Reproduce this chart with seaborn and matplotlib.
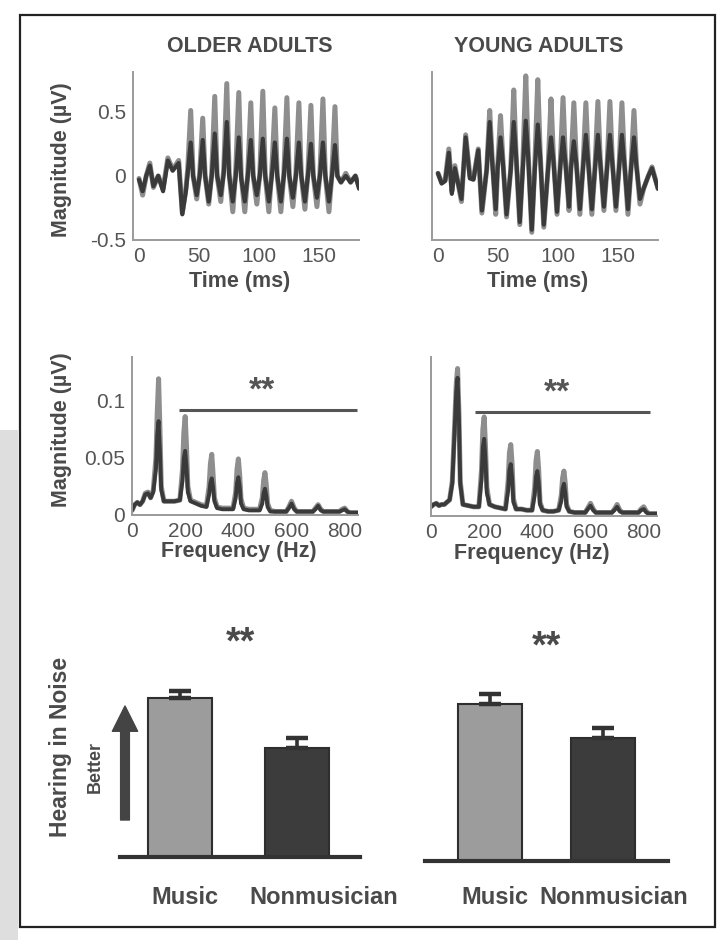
import matplotlib
matplotlib.use("Agg")
import matplotlib.pyplot as plt
import seaborn as sns
import pandas as pd
from matplotlib.patches import Rectangle

# ---------------- data ----------------
time_old = [0, 3, 6, 9, 12, 16, 20, 24, 28, 33, 36, 39,
            40.5, 43, 45, 48, 50.5, 53, 55, 58, 60.5, 63, 65, 68,
            70.5, 73, 75, 78, 80.5, 83, 85, 88, 90.5, 93, 95, 98,
            100.5, 103, 105, 108, 110.5, 113, 115, 118, 120.5, 123, 125, 128,
            130.5, 133, 135, 138, 140.5, 143, 145, 148, 150.5, 153, 155, 158,
            160.5, 163, 165, 168, 172, 176, 180, 183]
old_music_wave = [-0.02, -0.15, 0.0, 0.10, -0.09, 0.0, -0.10, 0.14, 0.05, 0.12, -0.29, -0.10,
                  0.05, 0.51, 0.0, -0.18, 0.02, 0.45, 0.0, -0.22, 0.02, 0.62, 0.0, -0.20,
                  0.05, 0.72, 0.02, -0.28, 0.05, 0.65, 0.0, -0.28, 0.02, 0.57, 0.0, -0.22,
                  0.02, 0.66, 0.0, -0.28, 0.05, 0.53, 0.0, -0.28, 0.02, 0.61, 0.0, -0.24,
                  0.02, 0.57, 0.0, -0.26, 0.02, 0.55, 0.0, -0.24, 0.02, 0.60, 0.0, -0.28,
                  0.02, 0.54, 0.0, -0.05, 0.02, -0.05, 0.0, -0.08]
old_non_wave = [-0.03, -0.12, 0.0, 0.08, -0.08, 0.0, -0.12, 0.12, 0.04, 0.10, -0.30, -0.12,
                0.02, 0.26, 0.0, -0.15, 0.0, 0.28, 0.0, -0.20, 0.0, 0.33, 0.0, -0.15,
                0.02, 0.42, 0.0, -0.20, 0.0, 0.30, -0.02, -0.20, 0.0, 0.28, 0.0, -0.15,
                0.0, 0.29, 0.0, -0.20, 0.0, 0.26, 0.0, -0.20, 0.0, 0.29, 0.0, -0.17,
                0.0, 0.26, 0.0, -0.20, 0.0, 0.25, 0.0, -0.17, 0.0, 0.26, 0.0, -0.20,
                0.0, 0.24, 0.0, -0.05, 0.0, -0.05, 0.0, -0.10]

time_young = [0, 3, 6, 9, 11.5, 14, 19.5, 23, 26.5, 29.5, 33.5, 36.5,
              40.5, 43, 45, 48, 49.5, 52, 54, 57, 60.5, 63, 65, 68,
              70.5, 73, 75, 78, 80.5, 83, 85, 88, 91.5, 94, 96, 99,
              101.5, 104, 106, 109, 110.5, 113, 115, 118, 120.5, 123, 125, 128,
              130.5, 133, 135, 138, 140.5, 143, 145, 148, 150.5, 153, 155, 158,
              160.5, 163, 165, 168, 171, 175, 178, 183]
young_music_wave = [0.02, -0.05, -0.03, 0.21, -0.12, 0.08, -0.20, 0.32, 0.0, -0.02, 0.21, -0.29,
                    0.05, 0.51, 0.15, -0.30, 0.05, 0.47, 0.12, -0.32, 0.05, 0.67, 0.15, -0.38,
                    0.08, 0.78, 0.18, -0.44, 0.08, 0.75, 0.18, -0.40, 0.05, 0.60, 0.15, -0.30,
                    0.05, 0.61, 0.12, -0.27, 0.05, 0.57, 0.12, -0.30, 0.05, 0.57, 0.12, -0.30,
                    0.05, 0.58, 0.12, -0.27, 0.05, 0.58, 0.12, -0.27, 0.05, 0.57, 0.12, -0.30,
                    0.05, 0.51, 0.10, -0.22, -0.10, 0.0, 0.07, -0.10]
young_non_wave = [0.02, -0.06, -0.04, 0.18, -0.14, 0.06, -0.18, 0.30, -0.02, -0.03, 0.20, -0.27,
                  0.05, 0.42, 0.12, -0.26, 0.05, 0.30, 0.10, -0.30, 0.05, 0.42, 0.15, -0.36,
                  0.05, 0.43, 0.15, -0.42, 0.05, 0.40, 0.15, -0.38, 0.05, 0.30, 0.12, -0.28,
                  0.05, 0.30, 0.10, -0.24, 0.05, 0.27, 0.10, -0.26, 0.05, 0.32, 0.10, -0.26,
                  0.05, 0.32, 0.10, -0.24, 0.05, 0.32, 0.10, -0.24, 0.05, 0.32, 0.10, -0.26,
                  0.05, 0.30, 0.08, -0.18, -0.10, 0.0, 0.06, -0.10]

freq = [0, 10, 20, 30, 40, 50, 60, 70, 80, 90, 95, 100, 105, 110, 120, 140, 160, 180, 190, 195,
        200, 205, 210, 220, 240, 260, 280, 290, 295, 300, 305, 310, 320, 340, 360, 380, 390, 395,
        400, 405, 410, 420, 440, 460, 480, 490, 495, 500, 505, 510, 520, 540, 560, 580, 590, 600,
        610, 620, 640, 660, 680, 690, 700, 710, 720, 740, 760, 780, 790, 800, 810, 820, 850]
old_music_spec = [0.004, 0.009, 0.011, 0.009, 0.012, 0.019, 0.020, 0.015, 0.022, 0.050,
                  0.090, 0.119, 0.075, 0.025, 0.012, 0.012, 0.012, 0.013, 0.040, 0.072,
                  0.086, 0.060, 0.025, 0.013, 0.011, 0.009, 0.008, 0.025, 0.045, 0.053,
                  0.035, 0.015, 0.007, 0.006, 0.006, 0.006, 0.020, 0.040, 0.049, 0.035,
                  0.014, 0.006, 0.005, 0.005, 0.005, 0.015, 0.030, 0.037, 0.026, 0.010,
                  0.004, 0.003, 0.003, 0.003, 0.007, 0.012, 0.006, 0.003, 0.003, 0.003,
                  0.003, 0.006, 0.009, 0.005, 0.003, 0.003, 0.003, 0.003, 0.005, 0.006,
                  0.003, 0.002, 0.002]
old_non_spec = [0.004, 0.009, 0.011, 0.009, 0.012, 0.018, 0.019, 0.015, 0.020, 0.040,
                0.070, 0.082, 0.055, 0.022, 0.012, 0.012, 0.012, 0.013, 0.030, 0.050,
                0.056, 0.042, 0.020, 0.012, 0.010, 0.008, 0.007, 0.018, 0.028, 0.032,
                0.024, 0.012, 0.006, 0.005, 0.005, 0.005, 0.015, 0.028, 0.033, 0.025,
                0.010, 0.005, 0.004, 0.004, 0.004, 0.010, 0.019, 0.023, 0.017, 0.007,
                0.003, 0.003, 0.003, 0.003, 0.006, 0.010, 0.005, 0.003, 0.003, 0.003,
                0.003, 0.005, 0.008, 0.004, 0.003, 0.003, 0.003, 0.003, 0.004, 0.005,
                0.003, 0.002, 0.002]
young_music_spec = [0.008, 0.010, 0.011, 0.009, 0.010, 0.010, 0.012, 0.014, 0.030, 0.085,
                    0.115, 0.128, 0.090, 0.030, 0.010, 0.009, 0.008, 0.008, 0.040, 0.075,
                    0.086, 0.060, 0.025, 0.010, 0.008, 0.007, 0.006, 0.030, 0.055, 0.062,
                    0.045, 0.015, 0.006, 0.006, 0.005, 0.005, 0.025, 0.048, 0.056, 0.040,
                    0.012, 0.005, 0.004, 0.004, 0.005, 0.018, 0.033, 0.039, 0.028, 0.010,
                    0.004, 0.003, 0.003, 0.003, 0.007, 0.011, 0.006, 0.003, 0.003, 0.003,
                    0.003, 0.006, 0.010, 0.005, 0.003, 0.003, 0.003, 0.003, 0.006, 0.008,
                    0.004, 0.002, 0.002]
young_non_spec = [0.008, 0.010, 0.011, 0.009, 0.010, 0.010, 0.012, 0.014, 0.028, 0.080,
                  0.108, 0.120, 0.085, 0.028, 0.010, 0.009, 0.008, 0.008, 0.032, 0.060,
                  0.067, 0.048, 0.020, 0.010, 0.008, 0.007, 0.006, 0.022, 0.040, 0.045,
                  0.033, 0.012, 0.006, 0.006, 0.005, 0.005, 0.018, 0.034, 0.039, 0.029,
                  0.010, 0.005, 0.004, 0.004, 0.005, 0.013, 0.024, 0.028, 0.020, 0.008,
                  0.004, 0.003, 0.003, 0.003, 0.006, 0.009, 0.005, 0.003, 0.003, 0.003,
                  0.003, 0.005, 0.008, 0.004, 0.003, 0.003, 0.003, 0.003, 0.005, 0.006,
                  0.003, 0.002, 0.002]

# significance bar spans (Hz) and level
sig_old = [175, 845]
sig_young = [165, 825]
sig_level_old = 0.092
sig_level_young = 0.090

groups = ["Music", "Nonmusician"]
hin_old = [0.80, 0.55]
hin_old_err = [0.035, 0.05]
hin_young = [0.79, 0.62]
hin_young_err = [0.05, 0.05]

panel_titles = ["OLDER ADULTS", "YOUNG ADULTS"]

# ---------------- style ----------------
sns.set_theme(style="white")
plt.rcParams["font.family"] = ["Liberation Sans", "DejaVu Sans"]
TXT = "#4a4a4a"
GREY = "#8e8e8e"
DARK = "#3a3a3a"
SPINE = "#9a9a9a"

W, H = 719, 940
fig = plt.figure(figsize=(W / 100, H / 100), dpi=100)
fig.patch.set_facecolor("white")


def rect(x0, y_top, x1, y_bot):
    return [x0 / W, 1 - y_bot / H, (x1 - x0) / W, (y_bot - y_top) / H]


def fx(x):
    return x / W


def fy(y):
    return 1 - y / H


# page frame and scanned edge (no fill, drawn underneath)
fig.patches.append(Rectangle((0, 0), fx(18), fy(430), transform=fig.transFigure,
                             facecolor="#dedede", edgecolor="none", zorder=-5))
fig.patches.append(Rectangle((fx(20), fy(927)), fx(715) - fx(20), fy(15) - fy(927),
                             transform=fig.transFigure, facecolor="none",
                             edgecolor="#222222", lw=1.6, zorder=-4))


def style_trace_axes(ax, show_ylabels):
    ax.set_facecolor("none")
    for s in ["top", "right"]:
        ax.spines[s].set_visible(False)
    for s in ["left", "bottom"]:
        ax.spines[s].set_color(SPINE)
        ax.spines[s].set_linewidth(1.4)
    ax.tick_params(direction="in", length=3, color=SPINE, labelsize=15,
                   labelcolor="#555555", pad=5)
    if not show_ylabels:
        ax.set_yticklabels([])
    ax.set_xlabel("")
    ax.set_ylabel("")


# ---------- time-domain panels ----------
wave_sets = [(time_old, old_music_wave, old_non_wave), (time_young, young_music_wave, young_non_wave)]
wave_rects = [rect(133, 72, 359, 240), rect(432, 72, 658, 240)]
for i, ((t, m, n), r) in enumerate(zip(wave_sets, wave_rects)):
    ax = fig.add_axes(r)
    sns.lineplot(x=t, y=m, ax=ax, color=GREY, lw=3.6, estimator=None, sort=False)
    sns.lineplot(x=t, y=n, ax=ax, color=DARK, lw=3.0, estimator=None, sort=False)
    ax.set_xlim(-5, 183)
    ax.set_ylim(-0.5, 0.81)
    ax.set_xticks([0, 50, 100, 150])
    ax.set_yticks([-0.5, 0, 0.5])
    ax.set_yticklabels(["-0.5", "0", "0.5"])
    style_trace_axes(ax, i == 0)

# ---------- spectra panels ----------
spec_sets = [(old_music_spec, old_non_spec, sig_old, sig_level_old),
             (young_music_spec, young_non_spec, sig_young, sig_level_young)]
spec_rects = [rect(132, 357, 358, 515), rect(431, 357, 657, 516)]
for i, ((m, n, sig, lev), r) in enumerate(zip(spec_sets, spec_rects)):
    ax = fig.add_axes(r)
    sns.lineplot(x=freq, y=m, ax=ax, color=GREY, lw=3.6, estimator=None, sort=False)
    sns.lineplot(x=freq, y=n, ax=ax, color=DARK, lw=2.8, estimator=None, sort=False)
    ax.plot(sig, [lev, lev], color="#555555", lw=2.2, solid_capstyle="butt")
    ax.text((sig[0] + sig[1]) / 2 - 20, lev + 0.003, "**", ha="center", va="bottom",
            fontsize=24, fontweight="bold", color="#555555")
    ax.set_xlim(0, 850)
    ax.set_ylim(0, 0.138)
    ax.set_xticks([0, 200, 400, 600, 800])
    ax.set_yticks([0, 0.05, 0.1])
    ax.set_yticklabels(["0", "0.05", "0.1"])
    style_trace_axes(ax, i == 0)

# ---------- bar panels ----------
# (values, errors, axes rect, xlim, bar width, label x-offsets in px, label drop in px)
bar_sets = [(hin_old, hin_old_err, rect(120, 658.25, 360, 857), (-0.51, 1.54), 0.55, [5, 27], 40),
            (hin_young, hin_young_err, rect(425, 662.25, 668, 861), (-0.575, 1.575), 0.57, [5, 11], 36)]
for vals, errs, r, xl, wdt, dxs, drop in bar_sets:
    ax = fig.add_axes(r)
    df = pd.DataFrame({"group": groups, "score": vals})
    sns.barplot(data=df, x="group", y="score", hue="group", palette=["#9c9c9c", "#3c3c3c"],
                width=wdt, edgecolor="#2e2e2e", linewidth=1.5, errorbar=None,
                legend=False, ax=ax)
    ax.errorbar([0, 1], vals, yerr=[[0, 0], errs], fmt="none", ecolor="#333333",
                elinewidth=2.6, capsize=8, capthick=3.2, zorder=5)
    ax.set_xlim(*xl)
    ax.set_ylim(0, 1.0)
    ax.set_facecolor("none")
    for s in ["top", "right", "left"]:
        ax.spines[s].set_visible(False)
    ax.spines["bottom"].set_color("#333333")
    ax.spines["bottom"].set_linewidth(3)
    ax.set_yticks([])
    ax.set_xticks([0, 1])
    ax.set_xticklabels([])
    ax.tick_params(axis="x", length=0)
    for k, g in enumerate(groups):
        ax.annotate(g, xy=(k, 0), xycoords=ax.get_xaxis_transform(),
                    xytext=(dxs[k] * 0.72, -drop * 0.72), textcoords="offset points",
                    ha="center", va="center", fontsize=17, fontweight="bold", color=TXT)
    ax.set_xlabel("")
    ax.set_ylabel("")
    ax.text(0.5, 1.075, "**", transform=ax.get_yaxis_transform(), ha="center",
            va="center", fontsize=27, fontweight="bold", color=TXT, clip_on=False)

# ---------- figure texts ----------
bold = dict(fontweight="bold", color=TXT)
fig.text(fx(250), fy(47), panel_titles[0], ha="center", va="center", fontsize=15.5, **bold)
fig.text(fx(539), fy(47), panel_titles[1], ha="center", va="center", fontsize=15.5, **bold)
fig.text(fx(240), fy(281), "Time (ms)", ha="center", va="center", fontsize=15.5, **bold)
fig.text(fx(538), fy(281), "Time (ms)", ha="center", va="center", fontsize=15.5, **bold)
fig.text(fx(239), fy(551), "Frequency (Hz)", ha="center", va="center", fontsize=15.5, **bold)
fig.text(fx(532), fy(553), "Frequency (Hz)", ha="center", va="center", fontsize=15.5, **bold)
fig.text(fx(62), fy(160), "Magnitude (µV)", ha="center", va="center", rotation=90,
         fontsize=15.5, **bold)
fig.text(fx(62), fy(430), "Magnitude (µV)", ha="center", va="center", rotation=90,
         fontsize=15.5, **bold)
fig.text(fx(61), fy(747), "Hearing in Noise", ha="center", va="center", rotation=90,
         fontsize=16.5, **bold)
fig.text(fx(95), fy(767), "Better", ha="center", va="center", rotation=90,
         fontsize=13, **bold)

fig.add_artist(plt.Annotation("", xy=(125, H - 706), xytext=(125, H - 820),
                              xycoords="figure pixels", textcoords="figure pixels",
                              arrowprops=dict(arrowstyle="simple,head_length=1.3,head_width=1.3,tail_width=0.45",
                                              mutation_scale=14, color="#444444",
                                              shrinkA=0, shrinkB=0)))

fig.savefig("out.png", dpi=100, facecolor="white")
